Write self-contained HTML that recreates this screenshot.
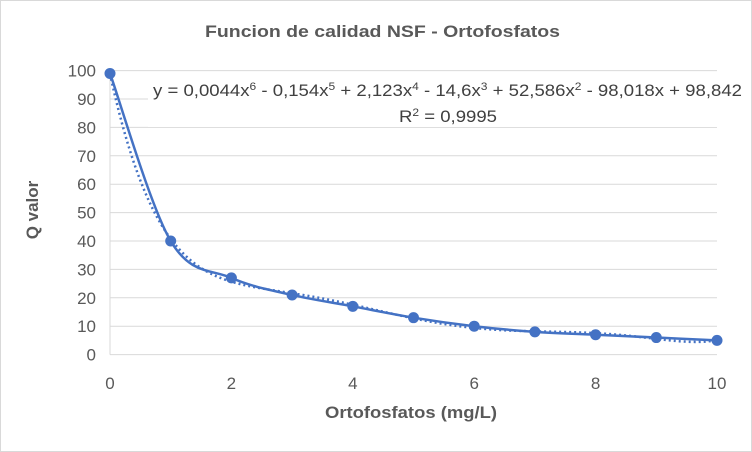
<!DOCTYPE html>
<html><head><meta charset="utf-8"><style>
html,body{margin:0;padding:0;background:#fff;}
svg{display:block;font-family:"Liberation Sans",Arial,sans-serif;}
</style></head><body>
<svg id="chart" width="752" height="452" viewBox="0 0 752 452">
<rect x="0.5" y="0.5" width="751" height="451" fill="#fff" stroke="#d9d9d9"/>
<text x="205" y="37" textLength="355" lengthAdjust="spacingAndGlyphs" font-size="17" font-weight="bold" fill="#595959">Funcion de calidad NSF - Ortofosfatos</text>
<g id="grid"></g>
<g id="yticks"></g>
<g id="xticks"></g>
<text transform="translate(38,210) rotate(-90)" text-anchor="middle" font-size="17" font-weight="bold" fill="#595959">Q valor</text>
<text x="325" y="418" textLength="172" lengthAdjust="spacingAndGlyphs" font-size="17" font-weight="bold" fill="#595959">Ortofosfatos (mg/L)</text>
<g id="series"></g>
<g>
<rect x="148" y="77" width="598" height="50" fill="#fff"/>
<text x="153" y="96" textLength="589" lengthAdjust="spacingAndGlyphs" font-size="17" fill="#404040">y = 0,0044x<tspan font-size="11" dy="-6">6</tspan><tspan dy="6"> - 0,154x</tspan><tspan font-size="11" dy="-6">5</tspan><tspan dy="6"> + 2,123x</tspan><tspan font-size="11" dy="-6">4</tspan><tspan dy="6"> - 14,6x</tspan><tspan font-size="11" dy="-6">3</tspan><tspan dy="6"> + 52,586x</tspan><tspan font-size="11" dy="-6">2</tspan><tspan dy="6"> - 98,018x + 98,842</tspan></text>
<text x="399" y="122" textLength="98" lengthAdjust="spacingAndGlyphs" font-size="17" fill="#404040">R<tspan font-size="11" dy="-6">2</tspan><tspan dy="6"> = 0,9995</tspan></text>
</g>
</svg>
<script>
const xValues = [0,1,2,3,4,5,6,7,8,9,10];
const qValues = [99,40,27,21,17,13,10,8,7,6,5];
const yTickLabels = [0,10,20,30,40,50,60,70,80,90,100];
const xTickLabels = [0,2,4,6,8,10];

const NS = "http://www.w3.org/2000/svg";
const X0 = 110, X1 = 717, Y0 = 354.6, Y1 = 70.6;
function sx(v){ return X0 + (v - 0) / 10 * (X1 - X0); }
function sy(v){ return Y0 - v / 100 * (Y0 - Y1); }
function mk(tag, attrs, parent){ const e = document.createElementNS(NS, tag); for (const k in attrs) e.setAttribute(k, attrs[k]); parent.appendChild(e); return e; }

const grid = document.getElementById('grid');
const yt = document.getElementById('yticks');
yTickLabels.forEach(v => {
  const l = mk('line', {x1: X0, x2: X1, y1: sy(v), y2: sy(v), stroke: '#d9d9d9', 'stroke-width': 1}, grid);
  
  
  const t = mk('text', {x: 96, y: sy(v) + 6, 'text-anchor': 'end', 'font-size': 17, fill: '#595959'}, yt);
  t.textContent = v;
  
  
});
const ax = mk('line', {x1: X0, x2: X0, y1: Y1, y2: Y0, stroke: '#d9d9d9', 'stroke-width': 1}, grid);


const xt = document.getElementById('xticks');
xTickLabels.forEach(v => {
  const t = mk('text', {x: sx(v), y: 389, 'text-anchor': 'middle', 'font-size': 17, fill: '#595959'}, xt);
  t.textContent = v;
  
  
});

function polyfit(xs, ys, deg){
  const n = deg + 1, A = [], b = [];
  for (let i = 0; i < n; i++){ A.push(new Array(n).fill(0)); b.push(0); }
  xs.forEach((x0, k) => { const x = x0 / 10;
    for (let i = 0; i < n; i++){ b[i] += ys[k] * Math.pow(x, i);
      for (let j = 0; j < n; j++) A[i][j] += Math.pow(x, i + j); } });
  for (let c = 0; c < n; c++){
    let p = c; for (let r = c + 1; r < n; r++) if (Math.abs(A[r][c]) > Math.abs(A[p][c])) p = r;
    [A[c], A[p]] = [A[p], A[c]]; [b[c], b[p]] = [b[p], b[c]];
    for (let r = 0; r < n; r++){ if (r === c) continue; const f = A[r][c] / A[c][c];
      for (let j = c; j < n; j++) A[r][j] -= f * A[c][j]; b[r] -= f * b[c]; } }
  return b.map((v, i) => v / A[i][i]);
}
const coef = polyfit(xValues, qValues, 6);
const series = document.getElementById('series');
let d = '';
for (let i = 0; i <= 200; i++){
  const x = i / 20, xs = x / 10; let y = 0;
  coef.forEach((c, k) => y += c * Math.pow(xs, k));
  d += (i ? 'L' : 'M') + sx(x).toFixed(2) + ',' + sy(y).toFixed(2);
}
const tr = mk('path', {d: d, fill: 'none', stroke: '#4472c4', 'stroke-width': 2.5, 'stroke-dasharray': '2 3'}, series);



const P = xValues.map((x, i) => [sx(x), sy(qValues[i])]);
let s = 'M' + P[0][0] + ',' + P[0][1];
for (let i = 0; i < P.length - 1; i++){
  const p0 = P[Math.max(0, i - 1)], p1 = P[i], p2 = P[i + 1], p3 = P[Math.min(P.length - 1, i + 2)];
  const t = 1 / 6;
  s += 'C' + (p1[0] + (p2[0] - p0[0]) * t) + ',' + (p1[1] + (p2[1] - p0[1]) * t) + ' ' +
       (p2[0] - (p3[0] - p1[0]) * t) + ',' + (p2[1] - (p3[1] - p1[1]) * t) + ' ' + p2[0] + ',' + p2[1];
}
const ln = mk('path', {d: s, fill: 'none', stroke: '#4472c4', 'stroke-width': 2.5}, series);


xValues.forEach((x, i) => {
  const c = mk('circle', {cx: sx(x), cy: sy(qValues[i]), r: 5.5, fill: '#4472c4'}, series);
  
  
});
</script>
</body></html>
